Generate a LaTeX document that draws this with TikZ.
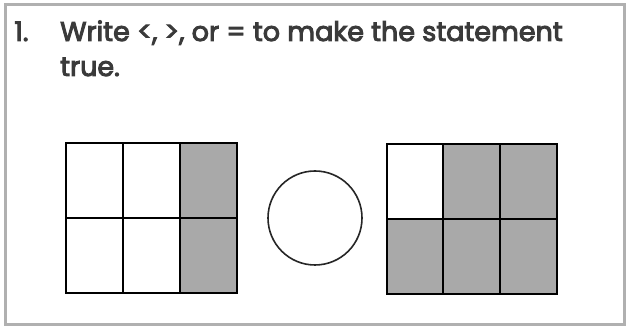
\documentclass[tikz,border=0pt]{standalone}
\usepackage{fontspec}
\setmainfont{Poppins}
\newfontfamily\qfont{Poppins}[FakeBold=3.5]
\definecolor{txt}{HTML}{3A3A3A}
\definecolor{cellgray}{HTML}{A9A9A9}
\definecolor{framegray}{HTML}{B0B0B0}
\tikzset{
  cellline/.style={draw=black, line width=1.6pt},
  txtstyle/.style={text=txt, font=\qfont\fontsize{27}{30}\selectfont, anchor=base west, inner sep=0pt}
}
\begin{document}
\begin{tikzpicture}[x=1pt,y=-1pt]
\useasboundingbox (0,0) rectangle (629,328);
\fill[white] (0,0) rectangle (629,328);
\draw[framegray, line width=3pt] (5.5,5) rectangle (624,324.5);
% text
\node[txtstyle] (num) at (14,41) {1.};
\node[txtstyle] (l1) at (60,41) {Write <, >, or = to make the statement};
\node[txtstyle] (l2) at (60,76) {true.};
% left grid
\fill[cellgray] (180,143) rectangle (237,293);
\draw[cellline] (66,143) rectangle (237,293);
\draw[cellline] (123,143) -- (123,293);
\draw[cellline] (180,143) -- (180,293);
\draw[cellline] (66,218) -- (237,218);
% circle
\node[draw=black!85, line width=1.6pt, circle, minimum size=94pt, inner sep=0pt] (c) at (315,218) {};
% right grid
\fill[cellgray] (443,144) rectangle (557,219);
\fill[cellgray] (387,219) rectangle (557,294);
\draw[cellline] (387,144) rectangle (557,294);
\draw[cellline] (443,144) -- (443,294);
\draw[cellline] (500,144) -- (500,294);
\draw[cellline] (387,219) -- (557,219);
\end{tikzpicture}
\end{document}
